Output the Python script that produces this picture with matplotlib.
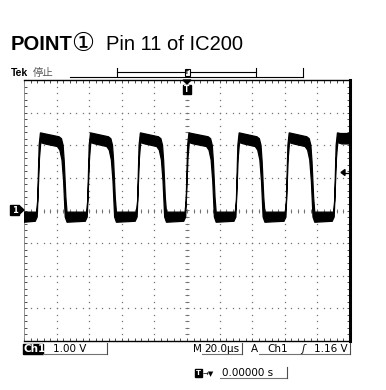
import numpy as np
import matplotlib
matplotlib.use("Agg")
import matplotlib.pyplot as plt
from matplotlib.ticker import MultipleLocator
from matplotlib.patches import Rectangle, Polygon

# scope settings (20 us/div, 1 V/div, trigger at centre)
t_range = (-100.0, 100.0)
v_range = (-4.0, 4.0)

# edge times (us)
rise_us = [-91.1, -60.4, -29.8, 0.0, 30.8, 61.5, 91.1]
fall_us = [-74.5, -44.2, -13.5, 17.0, 46.9, 77.5]

# low level band (V)
low_top = -0.05
low_bot = -0.36

# outline of the noisy trace around each edge (us from edge, V)
rise_up = [(-1.2, low_top), (-0.5, 0.3), (0.4, 2.0), (1.2, 2.38), (3.0, 2.36)]
fall_up = [(-4.0, 2.26), (-2.5, 2.2), (-1.5, 2.0), (-0.8, 1.5), (0.2, 0.4), (0.9, low_top)]
rise_lo = [(-2.0, -0.33), (-0.8, -0.2), (0.6, 1.6), (1.4, 2.08), (4.0, 2.04)]
fall_lo = [(-5.0, 1.96), (-3.5, 1.85), (-2.2, 1.55), (-1.2, 0.9), (-0.2, -0.2), (0.9, low_bot)]


def outline(rise_pts, fall_pts, level):
    pts = [(t_range[0], level)]
    for i, r in enumerate(rise_us):
        pts += [(r + dt, v) for dt, v in rise_pts]
        if i < len(fall_us):
            pts += [(fall_us[i] + dt, v) for dt, v in fall_pts]
    last = pts[-1][1]
    pts.append((t_range[1], last))
    return pts


upper = outline(rise_up, fall_up, low_top)
lower = outline(rise_lo, fall_lo, low_bot)

fig = plt.figure(figsize=(3.86, 3.90), dpi=100)
W, H = 386, 390
ax = fig.add_axes([24 / W, 1 - 341 / H, 326 / W, 261 / H])
ax.set_xlim(*t_range)
ax.set_ylim(*v_range)

# graticule dots
dot = dict(ls="none", marker="s", ms=0.9, color="0.45", mew=0)
ys = np.arange(-4, 4.01, 0.2)
xs = np.arange(-100, 100.1, 4)
for k in range(-4, 5):
    ax.plot(np.full_like(ys, k * 20), ys, **dot)
for k in range(-3, 4):
    ax.plot(xs, np.full_like(xs, k), **dot)
# centre lines with ticks
ax.plot(np.zeros_like(ys), ys, ls="none", marker="_", ms=3, color="0.45", mew=0.7)
ax.plot(xs, np.zeros_like(xs), ls="none", marker="|", ms=3, color="0.45", mew=0.7)

# the trace
poly = Polygon(upper + lower[::-1], closed=True, facecolor="black",
               edgecolor="black", lw=0.9, zorder=5)
ax.add_patch(poly)

ax.xaxis.set_major_locator(MultipleLocator(20))
ax.xaxis.set_minor_locator(MultipleLocator(4))
ax.yaxis.set_major_locator(MultipleLocator(1))
ax.yaxis.set_minor_locator(MultipleLocator(0.2))
ax.tick_params(which="both", direction="in", length=2.5, width=0.7, color="0.3",
               top=True, right=True, labelbottom=False, labelleft=False)
for s in ("top", "bottom"):
    ax.spines[s].set_linewidth(1.0)
ax.spines["right"].set_linewidth(2.2)
ax.spines["left"].set_linewidth(0.6)
ax.spines["left"].set_color("0.5")

# overlay in pixel coordinates for the screen annotations
ov = fig.add_axes([0, 0, 1, 1])
ov.set_xlim(0, W)
ov.set_ylim(H, 0)
ov.axis("off")

sans = ["Liberation Sans", "DejaVu Sans"]
ov.text(11, 50, "POINT", fontsize=14.5, fontweight="bold", family=sans, va="baseline")
ov.text(71, 50.5, "\u2460", fontsize=18.5, family=["DejaVu Sans"], va="baseline")
ov.text(106, 50, "Pin 11 of IC200", fontsize=14.5, family=sans, va="baseline")

ov.text(11, 76, "Tek", fontsize=7.5, fontweight="bold", family=sans, va="baseline")
ov.text(33, 76, "停止", fontsize=7.5, color="0.35",
        family=["Noto Sans CJK JP", "DejaVu Sans"], va="baseline")

# record view bar
ln = dict(color="black", lw=0.8)
ov.plot([70, 303], [77, 77], **ln)
ov.plot([303, 303], [68, 77], **ln)
ov.plot([117, 256], [72, 72], **ln)
ov.plot([117, 117], [68, 76], **ln)
ov.plot([256, 256], [68, 76], **ln)
ov.add_patch(Rectangle((184.5, 69), 5, 7, facecolor="white", edgecolor="black", lw=0.8, zorder=6))
ov.text(187, 73, "T", fontsize=4, ha="center", va="center", fontweight="bold", zorder=7)
# trigger position marker
ov.add_patch(Polygon([(183, 80), (191, 80), (187, 84)], closed=True, color="black"))
ov.add_patch(Rectangle((183, 84.5), 8, 9, color="black"))
ov.text(187, 89.3, "T", fontsize=5.5, color="white", ha="center", va="center", fontweight="bold")

# ground marker
ov.add_patch(Rectangle((10, 205), 9, 10, color="black"))
ov.add_patch(Polygon([(19, 205.5), (24, 210), (19, 214.5)], closed=True, color="black"))
ov.text(14.5, 210.3, "1", fontsize=6, color="white", ha="center", va="center", fontweight="bold")

# trigger level marker
ov.add_patch(Polygon([(341, 172.5), (345, 169.5), (345, 175.5)], closed=True, color="black", zorder=6))
ov.plot([344, 349], [172.5, 172.5], color="black", lw=0.9)

# status line
st = dict(fontsize=7.5, family=["DejaVu Sans"], va="baseline")
ov.add_patch(Rectangle((23, 344), 20, 9.5, color="black"))
ov.text(24, 352, "Ch1", color="white", fontweight="bold", **st)
ov.text(53, 352, "1.00 V", **st)
ov.plot([43, 107], [353.5, 353.5], color="0.45", lw=0.8)
ov.plot([107, 107], [343, 354], color="0.3", lw=0.8)

ov.text(193, 352, "M", **st)
ov.text(204, 352, "20.0\u00b5s", **st)
ov.plot([202, 242], [353.5, 353.5], color="0.45", lw=0.8)
ov.plot([242, 242], [343, 354], color="0.3", lw=0.8)

ov.text(251, 352, "A", **st)
ov.text(267, 352, "Ch1", **st)
ov.text(301, 352, "\u0283", fontsize=7.5, family=["DejaVu Sans"], va="baseline", style="italic")
ov.text(348, 352, "1.16 V", ha="right", **st)
ov.plot([259, 350], [353.5, 353.5], color="0.45", lw=0.8)
ov.plot([350, 350], [343, 354], color="0.3", lw=0.8)

# horizontal position readout
ov.add_patch(Rectangle((195, 369), 7, 8, color="black"))
ov.text(198.5, 373.2, "T", fontsize=5, color="white", ha="center", va="center", fontweight="bold")
ov.text(203, 376, "\u2192\u25bc", fontsize=5, family=["DejaVu Sans"], va="baseline")
ov.text(222, 376, "0.00000 s", **st)
ov.plot([220, 287], [377.5, 377.5], color="0.45", lw=0.8)
ov.plot([287, 287], [367, 378], color="0.3", lw=0.8)

fig.savefig("out.png", dpi=100)
